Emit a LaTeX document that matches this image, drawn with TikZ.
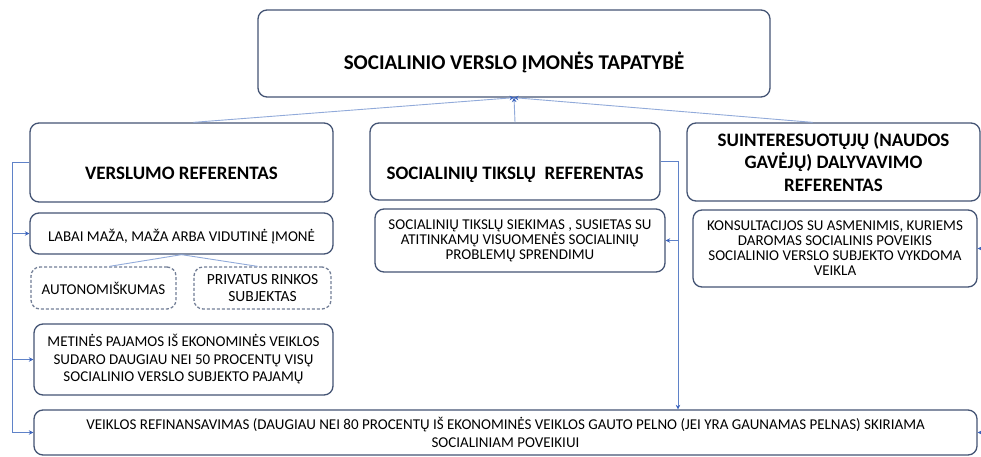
\documentclass[tikz,border=0pt]{standalone}
\usepackage{fontspec}
\setmainfont{Carlito}
\usetikzlibrary{arrows.meta,calc}
\definecolor{boxc}{RGB}{68,84,116}
\definecolor{linec}{RGB}{145,170,218}
\definecolor{busc}{RGB}{95,130,200}
\definecolor{tipc}{RGB}{60,100,190}
\begin{document}
\begin{tikzpicture}[x=1pt,y=-1pt,
  box/.style={draw=boxc, line width=1.3pt, rounded corners=9pt, fill=white, align=center, inner sep=0pt, text=black},
  dbox/.style={box, draw=boxc!75, dash pattern=on 3pt off 2pt},
  ttl/.style={font=\fontsize{19}{22.5}\selectfont\bfseries},
  conn/.style={draw=linec, line width=0.9pt},
  bus/.style={draw=busc, line width=0.8pt},
  tip/.style={-{Stealth[length=4.5pt,width=4.5pt,color=tipc]}},
]
\useasboundingbox (0,0) rectangle (981,457);
\fill[white] (0,0) rectangle (981,457);

\node[box, minimum width=512pt, minimum height=87pt, font=\fontsize{21}{24}\selectfont\bfseries, text height=32pt, text depth=0pt] (top) at (514,53.5) {SOCIALINIO VERSLO ĮMONĖS TAPATYBĖ};

\node[box, ttl, minimum width=303pt, minimum height=79pt, text height=33pt, text depth=0pt] (vb) at (181.5,162.5) {VERSLUMO REFERENTAS};
\node[box, ttl, minimum width=290pt, minimum height=77pt, text height=35pt, text depth=0pt] (sb) at (515,161.5) {SOCIALINIŲ TIKSLŲ\ \ REFERENTAS};
\node[box, ttl, minimum width=293pt, minimum height=78pt] (rb) at (833.5,162) {SUINTERESUOTŲJŲ (NAUDOS\\GAVĖJŲ) DALYVAVIMO\\REFERENTAS};

\node[box, font=\fontsize{15}{14.5}\selectfont, minimum width=290pt, minimum height=63pt] (ms) at (520,240.5) {SOCIALINIŲ TIKSLŲ SIEKIMAS , SUSIETAS SU\\ATITINKAMŲ VISUOMENĖS SOCIALINIŲ\\PROBLEMŲ SPRENDIMU};
\node[box, font=\fontsize{15}{15}\selectfont, minimum width=284pt, minimum height=77pt] (rs) at (835,248.5) {KONSULTACIJOS SU ASMENIMIS, KURIEMS\\DAROMAS SOCIALINIS POVEIKIS\\SOCIALINIO VERSLO SUBJEKTO VYKDOMA\\VEIKLA};

\node[box, font=\fontsize{15}{15}\selectfont, minimum width=303pt, minimum height=41pt, text height=16pt, text depth=0pt] (lab) at (181.5,233.5) {LABAI MAŽA, MAŽA ARBA VIDUTINĖ ĮMONĖ};
\node[dbox, font=\fontsize{15}{17}\selectfont, minimum width=145pt, minimum height=42pt] (aut) at (103.5,288) {AUTONOMIŠKUMAS};
\node[dbox, font=\fontsize{15.5}{17}\selectfont, minimum width=137pt, minimum height=42pt] (priv) at (262.5,288) {PRIVATUS RINKOS\\SUBJEKTAS};
\node[box, font=\fontsize{15}{17.5}\selectfont, minimum width=299pt, minimum height=71pt] (met) at (183.5,359.5) {METINĖS PAJAMOS IŠ EKONOMINĖS VEIKLOS\\SUDARO DAUGIAU NEI 50 PROCENTŲ VISŲ\\SOCIALINIO VERSLO SUBJEKTO PAJAMŲ};
\node[box, font=\fontsize{15}{18}\selectfont, minimum width=943pt, minimum height=45pt] (bot) at (505.5,432.5) {VEIKLOS REFINANSAVIMAS (DAUGIAU NEI 80 PROCENTŲ IŠ EKONOMINĖS VEIKLOS GAUTO PELNO (JEI YRA GAUNAMAS PELNAS) SKIRIAMA\\SOCIALINIAM POVEIKIUI};

% connectors to top
\draw[conn, tip] ($(vb.north)+(12,0)$) -- (top.south);
\draw[conn, tip] (sb.north) -- (top.south);
\draw[conn, tip] ($(rb.north)+(-21,0)$) -- (top.south);

% left bus
\coordinate (lx) at (12,0);
\draw[bus] (vb.west) -- (vb.west -| lx) -- (bot.west -| lx);
\draw[bus, tip] (lab.west -| lx) -- (lab.west);
\draw[bus, tip] (met.west -| lx) -- (met.west);
\draw[bus, tip] (bot.west -| lx) -- (bot.west);

% middle bus
\coordinate (mx) at (678,0);
\draw[bus] (sb.east) -- (sb.east -| mx);
\draw[bus, tip] (sb.east -| mx) -- (bot.north -| mx);
\draw[bus, tip] (ms.east -| mx) -- (ms.east);

% right bus stubs (the bus itself lies beyond the page edge)
\coordinate (rx) at (981,0);
\draw[bus] (rb.east) -- (rb.east -| rx);
\draw[bus, tip] (rs.east -| rx) -- (rs.east);
\draw[bus, tip] (bot.east -| rx) -- (bot.east);

% sub-branches
\draw[conn] (lab.south) -- ($(aut.north)+(6,0)$);
\draw[conn] (lab.south) -- ($(priv.north)+(-5,0)$);
\end{tikzpicture}
\end{document}
